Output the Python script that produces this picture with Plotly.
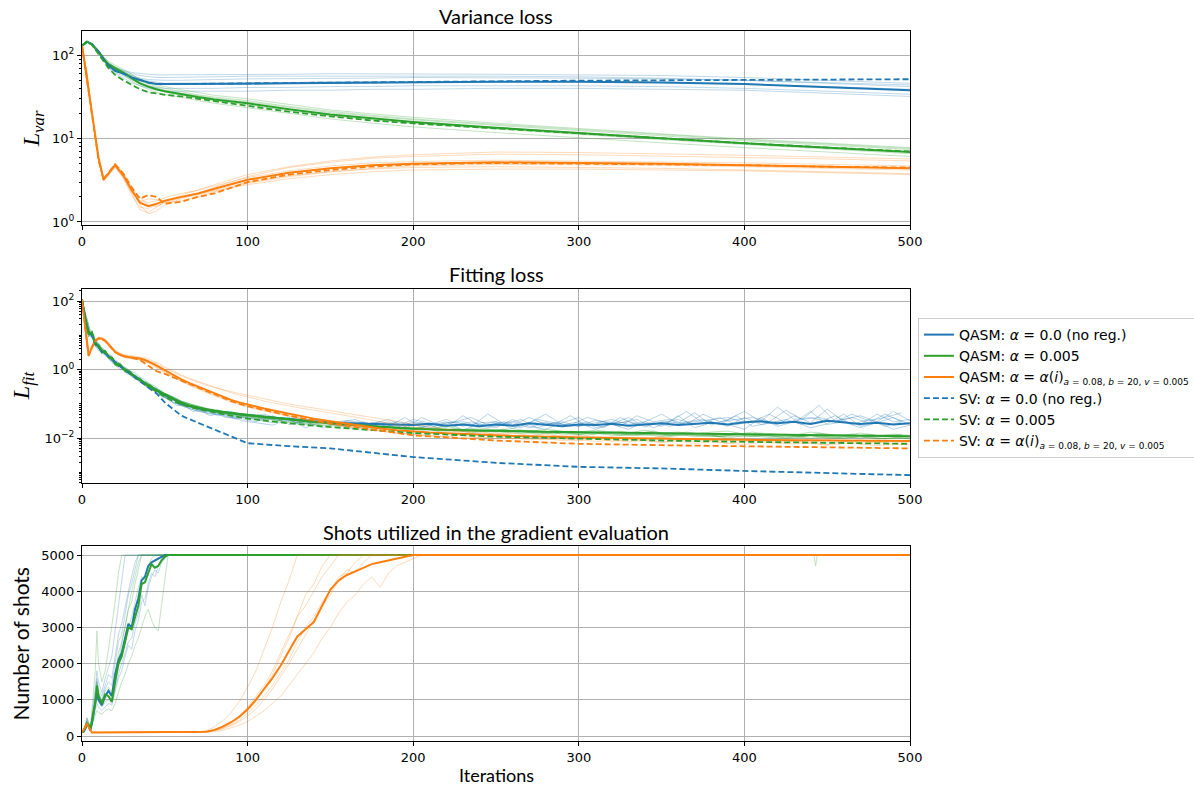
import plotly.graph_objects as go

BLUE = "#1f77b4"
GREEN = "#2ca02c"
ORANGE = "#ff7f0e"

# ---------------- Panel 1: variance loss ----------------
var_iter = [0, 3, 6, 10, 13, 16, 20, 25, 30, 35, 40, 45, 50, 60, 70, 80, 100, 125, 150, 175, 200, 250, 300, 350, 400, 450, 500]

var_blue_mean = [130, 145, 135, 110, 90, 75, 65, 60, 54, 50, 47, 45, 45, 45, 45, 45, 45.5, 46, 46.5, 47, 47.5, 48, 48, 47, 45, 41, 38]
var_blue_sv = [130, 145, 135, 110, 90, 75, 65, 60, 54, 50, 47, 45, 45, 45, 45.5, 45.5, 46, 46.5, 47, 47.5, 48, 49, 49.5, 50, 50.5, 51, 51.5]
var_blue_runs = [
    [130, 146, 136, 112, 95, 82, 72, 66, 62, 60, 59, 58, 58, 58, 58, 58, 59, 59, 60, 60, 60, 59, 58, 57, 54, 50, 46],
    [130, 144, 134, 108, 88, 72, 62, 56, 50, 46, 43, 41, 40, 40, 40, 40, 41, 41, 42, 42, 43, 43, 43, 42, 40, 37, 34],
    [130, 145, 135, 110, 91, 77, 67, 62, 57, 53, 51, 50, 50, 50, 51, 51, 52, 52, 53, 53, 54, 54, 53, 52, 50, 46, 42],
    [130, 143, 133, 106, 86, 70, 60, 53, 47, 43, 40, 38, 37, 37, 37, 37, 37, 38, 38, 39, 39, 40, 40, 39, 38, 35, 32],
    [130, 146, 137, 113, 93, 79, 68, 62, 56, 52, 49, 47, 46, 46, 46, 46, 47, 47, 48, 48, 49, 49, 48, 47, 45, 42, 39],
    [130, 145, 136, 111, 92, 78, 69, 64, 60, 57, 55, 54, 54, 54, 54, 55, 56, 56, 57, 57, 57, 56, 55, 53, 50, 47, 44],
]

var_green_mean = [130, 145, 135, 110, 90, 78, 70, 62, 53, 46, 42, 39, 37, 34, 31.5, 29.5, 26.5, 22.5, 19.5, 17.5, 15.8, 13.5, 11.6, 10.1, 8.8, 7.8, 6.9]
var_green_sv = [130, 145, 133, 105, 85, 70, 58, 50, 44, 39, 36, 34.5, 33.5, 32, 30, 28, 24.5, 21, 18.5, 16.5, 15.2, 13.2, 11.5, 10.1, 8.8, 7.8, 7.0]
var_green_runs = [
    [130, 146, 137, 115, 96, 84, 76, 68, 59, 51, 47, 44, 42, 38.5, 35.5, 33, 30, 25.5, 22, 19.8, 18, 15.3, 13.1, 11.4, 9.9, 8.8, 7.8],
    [130, 144, 133, 106, 86, 74, 66, 58, 49, 43, 39, 36, 34, 31, 28.5, 26.5, 23.5, 20, 17.2, 15.3, 13.8, 11.8, 10.2, 8.9, 7.8, 6.9, 6.1],
    [130, 145, 135, 111, 91, 79, 71, 63, 54, 47, 43, 40, 38, 35, 32.5, 30.5, 27.5, 23.5, 20.5, 18.5, 16.8, 14.4, 12.4, 10.8, 9.4, 8.3, 7.4],
    [130, 145, 134, 108, 88, 76, 68, 60, 51, 45, 41, 38, 36, 33, 30.5, 28.5, 25.5, 21.5, 18.7, 16.8, 15.2, 13, 11.2, 9.7, 8.5, 7.5, 6.6],
    [130, 146, 136, 112, 92, 80, 73, 65, 56, 49, 45, 42, 40, 36.5, 33.5, 31.5, 28.5, 24.3, 21.2, 19, 17.2, 14.8, 12.8, 11.1, 9.7, 8.6, 7.6],
]

var_orange_mean = [130, 51, 20, 5.9, 3.2, 3.8, 4.8, 3.6, 2.4, 1.7, 1.55, 1.65, 1.8, 2.0, 2.2, 2.5, 3.2, 3.9, 4.4, 4.8, 5.0, 5.2, 5.1, 5.0, 4.8, 4.6, 4.4]
var_orange_sv = [130, 50, 19, 5.5, 3.3, 3.9, 4.9, 3.8, 2.6, 1.9, 2.1, 2.0, 1.65, 1.75, 2.0, 2.2, 3.0, 3.7, 4.2, 4.6, 4.9, 5.1, 5.0, 4.9, 4.8, 4.6, 4.5]
var_orange_runs = [
    [130, 58, 19, 5.3, 3.1, 4.0, 5.1, 3.9, 2.6, 1.6, 1.25, 1.35, 1.6, 1.9, 2.2, 2.6, 3.5, 4.5, 5.2, 5.8, 6.1, 6.5, 6.4, 6.2, 6.0, 5.7, 5.4],
    [130, 62, 21, 5.8, 3.3, 3.7, 4.6, 3.3, 2.1, 1.5, 1.45, 1.6, 1.8, 2.0, 2.2, 2.4, 3.0, 3.6, 4.0, 4.3, 4.5, 4.6, 4.5, 4.4, 4.2, 4.0, 3.8],
    [130, 60, 20, 5.6, 3.2, 3.9, 4.9, 3.7, 2.5, 1.8, 1.7, 1.8, 1.95, 2.2, 2.4, 2.7, 3.4, 4.1, 4.7, 5.1, 5.3, 5.5, 5.4, 5.3, 5.1, 4.9, 4.7],
    [130, 59, 20, 5.4, 3.3, 3.8, 4.7, 3.5, 2.3, 1.75, 1.9, 1.85, 1.7, 1.8, 2.0, 2.3, 2.9, 3.5, 4.0, 4.4, 4.7, 4.9, 4.9, 4.8, 4.6, 4.4, 4.2],
    [130, 61, 21, 5.7, 3.2, 3.6, 4.5, 3.4, 2.2, 1.4, 1.3, 1.5, 1.75, 2.1, 2.4, 2.8, 3.7, 4.6, 5.4, 6.0, 6.4, 6.9, 6.8, 6.6, 6.3, 6.0, 5.7],
    [130, 60, 20, 5.5, 3.1, 3.8, 4.8, 3.6, 2.5, 2.0, 1.6, 1.55, 1.7, 1.95, 2.1, 2.35, 2.8, 3.3, 3.7, 4.0, 4.2, 4.3, 4.3, 4.2, 4.1, 3.9, 3.7],
]

# ---------------- Panel 2: fitting loss ----------------
fit_iter = [0, 2, 4, 6, 8, 10, 12, 14, 16, 18, 20, 23, 26, 29, 32, 35, 38, 41, 44, 47, 50,
            55, 60, 65, 70, 75, 80, 85, 90, 95, 100,
            110, 120, 130, 140, 150, 160, 170, 180, 190, 200, 210, 220, 230, 240, 250, 260, 270, 280, 290, 300,
            310, 320, 330, 340, 350, 360, 370, 380, 390, 400, 410, 420, 430, 440, 450, 460, 470, 480, 490, 500]
fit_iter_off = [1, 3, 5, 7, 9, 11, 13, 15, 17, 19, 21, 24, 27, 30, 33, 36, 39, 42, 45, 48,
                52, 57, 62, 67, 72, 77, 82, 87, 92, 97,
                105, 115, 125, 135, 145, 155, 165, 175, 185, 195, 205, 215, 225, 235, 245, 255, 265, 275, 285, 295,
                305, 315, 325, 335, 345, 355, 365, 375, 385, 395, 405, 415, 425, 435, 445, 455, 465, 475, 485, 495]

fit_blue_mean = [110, 30, 12, 10, 6, 4.5, 3.5, 3.0, 2.5, 2.0, 1.6, 1.3, 1.0, 0.8, 0.65, 0.5, 0.4, 0.32, 0.27, 0.22, 0.18,
                 0.14, 0.1, 0.085, 0.075, 0.068, 0.062, 0.057, 0.053, 0.05, 0.047,
                 0.042, 0.038, 0.035, 0.031, 0.028, 0.027, 0.026, 0.025, 0.024, 0.024, 0.026, 0.023, 0.025, 0.022, 0.025, 0.023, 0.027, 0.024, 0.022, 0.025,
                 0.024, 0.026, 0.023, 0.025, 0.027, 0.024, 0.026, 0.028, 0.025, 0.029, 0.031, 0.027, 0.03, 0.026, 0.032, 0.029, 0.026, 0.028, 0.025, 0.027]
fit_blue_runs = [
    [110, 35, 14, 9, 7, 5, 3.8, 3.5, 2.8, 2.2, 1.9, 1.5, 1.2, 0.9, 0.8, 0.6, 0.5, 0.38, 0.33, 0.25, 0.2,
     0.16, 0.12, 0.1, 0.08, 0.07, 0.065, 0.055, 0.06, 0.05, 0.045,
     0.05, 0.035, 0.04, 0.03, 0.028, 0.033, 0.025, 0.03, 0.022, 0.035, 0.027, 0.02, 0.045, 0.024, 0.03, 0.019, 0.028, 0.05, 0.025, 0.022,
     0.033, 0.026, 0.04, 0.021, 0.03, 0.028, 0.055, 0.024, 0.035, 0.06, 0.03, 0.025, 0.045, 0.028, 0.07, 0.03, 0.024, 0.05, 0.03, 0.035],
    [110, 25, 9, 13, 5, 3.5, 4, 2.5, 2.2, 1.6, 1.4, 1.0, 0.95, 0.7, 0.6, 0.42, 0.38, 0.27, 0.24, 0.19, 0.16,
     0.11, 0.09, 0.075, 0.06, 0.055, 0.05, 0.048, 0.04, 0.042, 0.038,
     0.035, 0.04, 0.028, 0.032, 0.025, 0.022, 0.03, 0.02, 0.026, 0.018, 0.024, 0.03, 0.017, 0.026, 0.02, 0.035, 0.022, 0.018, 0.028, 0.04,
     0.02, 0.025, 0.018, 0.03, 0.022, 0.045, 0.02, 0.028, 0.025, 0.018, 0.04, 0.022, 0.03, 0.02, 0.026, 0.05, 0.022, 0.03, 0.018, 0.024],
    [110, 30, 12, 10, 6.5, 4.8, 3.2, 3.2, 2.5, 2.1, 1.5, 1.3, 0.85, 0.85, 0.55, 0.5, 0.36, 0.3, 0.25, 0.2, 0.17,
     0.13, 0.11, 0.085, 0.07, 0.06, 0.058, 0.05, 0.045, 0.04, 0.05,
     0.04, 0.032, 0.03, 0.036, 0.026, 0.03, 0.024, 0.028, 0.02, 0.03, 0.025, 0.035, 0.022, 0.028, 0.03, 0.024, 0.04, 0.025, 0.03, 0.022,
     0.028, 0.035, 0.025, 0.03, 0.05, 0.026, 0.03, 0.035, 0.04, 0.028, 0.03, 0.08, 0.035, 0.04, 0.03, 0.035, 0.045, 0.03, 0.06, 0.032],
    [110, 40, 15, 8, 7.5, 4, 4.2, 2.8, 2.6, 1.8, 1.7, 1.2, 1.1, 0.75, 0.7, 0.5, 0.42, 0.34, 0.28, 0.22, 0.19,
     0.15, 0.1, 0.09, 0.075, 0.068, 0.055, 0.06, 0.048, 0.045, 0.04,
     0.038, 0.036, 0.033, 0.028, 0.03, 0.025, 0.028, 0.022, 0.03, 0.025, 0.02, 0.028, 0.03, 0.022, 0.026, 0.03, 0.02, 0.028, 0.024, 0.03,
     0.018, 0.026, 0.03, 0.024, 0.028, 0.035, 0.025, 0.03, 0.022, 0.04, 0.025, 0.03, 0.028, 0.06, 0.025, 0.03, 0.02, 0.028, 0.04, 0.025],
]
fit_blue_runs_off = [
    [60, 18, 11, 8, 5.5, 3.2, 3.6, 2.6, 2.0, 1.9, 1.4, 1.1, 0.9, 0.6, 0.55, 0.4, 0.33, 0.28, 0.2, 0.18,
     0.13, 0.1, 0.08, 0.068, 0.06, 0.05, 0.052, 0.042, 0.04, 0.036,
     0.03, 0.045, 0.025, 0.03, 0.02, 0.028, 0.035, 0.022, 0.03, 0.018, 0.04, 0.025, 0.03, 0.022, 0.05, 0.026, 0.02, 0.03, 0.025, 0.045,
     0.022, 0.03, 0.028, 0.035, 0.02, 0.03, 0.06, 0.028, 0.04, 0.025, 0.03, 0.05, 0.028, 0.035, 0.09, 0.03, 0.04, 0.028, 0.05, 0.03],
    [50, 22, 9, 10, 4.5, 4.2, 2.8, 3.1, 1.8, 2.0, 1.2, 1.3, 0.75, 0.7, 0.5, 0.45, 0.3, 0.3, 0.22, 0.16,
     0.14, 0.09, 0.09, 0.06, 0.065, 0.045, 0.05, 0.04, 0.038, 0.032,
     0.028, 0.024, 0.035, 0.02, 0.03, 0.025, 0.018, 0.028, 0.022, 0.04, 0.02, 0.026, 0.022, 0.03, 0.02, 0.025, 0.035, 0.02, 0.028, 0.022,
     0.03, 0.02, 0.04, 0.024, 0.028, 0.022, 0.03, 0.035, 0.025, 0.045, 0.022, 0.028, 0.035, 0.025, 0.03, 0.045, 0.025, 0.035, 0.022, 0.03],
    [70, 28, 13, 7, 6, 5, 3.0, 2.6, 2.3, 1.5, 1.5, 1.0, 1.0, 0.65, 0.6, 0.42, 0.38, 0.25, 0.26, 0.17,
     0.15, 0.12, 0.085, 0.08, 0.062, 0.058, 0.045, 0.05, 0.036, 0.04,
     0.035, 0.028, 0.04, 0.025, 0.033, 0.022, 0.03, 0.026, 0.035, 0.022, 0.028, 0.02, 0.03, 0.04, 0.024, 0.03, 0.022, 0.035, 0.028, 0.024,
     0.04, 0.03, 0.022, 0.045, 0.03, 0.035, 0.025, 0.05, 0.03, 0.035, 0.04, 0.03, 0.065, 0.035, 0.04, 0.03, 0.05, 0.032, 0.04, 0.055],
]

fit_green_mean = [110, 28, 11, 12, 5.5, 5, 3.2, 3.4, 2.3, 2.2, 1.5, 1.4, 0.95, 0.85, 0.6, 0.52, 0.4, 0.34, 0.27, 0.23, 0.19,
                  0.15, 0.11, 0.09, 0.078, 0.07, 0.063, 0.058, 0.054, 0.05, 0.047,
                  0.042, 0.037, 0.033, 0.03, 0.027, 0.025, 0.023, 0.021, 0.02, 0.019, 0.018, 0.0175, 0.017, 0.0168, 0.0163, 0.016, 0.0158, 0.0152, 0.015, 0.0145,
                  0.0147, 0.0142, 0.014, 0.0138, 0.0135, 0.0136, 0.0132, 0.013, 0.0131, 0.0127, 0.0126, 0.0124, 0.0122, 0.0123, 0.012, 0.0118, 0.0117, 0.0116, 0.0114, 0.0113]
fit_green_runs = [
    [110, 30, 13, 11, 6, 5, 3.5, 3.6, 2.5, 2.4, 1.7, 1.5, 1.05, 0.9, 0.65, 0.55, 0.44, 0.36, 0.3, 0.25, 0.2,
     0.16, 0.12, 0.1, 0.085, 0.075, 0.068, 0.06, 0.056, 0.052, 0.05,
     0.044, 0.04, 0.035, 0.032, 0.028, 0.026, 0.025, 0.022, 0.021, 0.02, 0.019, 0.022, 0.018, 0.02, 0.017, 0.019, 0.016, 0.018, 0.016, 0.015,
     0.017, 0.015, 0.014, 0.017, 0.014, 0.015, 0.013, 0.015, 0.016, 0.013, 0.014, 0.013, 0.012, 0.015, 0.013, 0.012, 0.014, 0.012, 0.013, 0.012],
    [110, 24, 9, 14, 5, 6, 3, 3.8, 2.1, 2.6, 1.3, 1.6, 0.8, 0.95, 0.5, 0.6, 0.35, 0.38, 0.25, 0.24, 0.17,
     0.14, 0.1, 0.085, 0.07, 0.065, 0.058, 0.055, 0.05, 0.047, 0.044,
     0.04, 0.035, 0.032, 0.028, 0.026, 0.024, 0.022, 0.02, 0.019, 0.018, 0.017, 0.016, 0.018, 0.015, 0.016, 0.014, 0.014, 0.016, 0.013, 0.013,
     0.015, 0.012, 0.012, 0.013, 0.011, 0.013, 0.011, 0.012, 0.01, 0.012, 0.011, 0.01, 0.01, 0.012, 0.01, 0.01, 0.011, 0.0095, 0.01, 0.0095],
    [110, 33, 12, 10, 6.5, 4.2, 3.8, 2.8, 2.6, 1.9, 1.6, 1.2, 1.0, 0.7, 0.7, 0.45, 0.42, 0.3, 0.28, 0.2, 0.19,
     0.14, 0.11, 0.09, 0.08, 0.07, 0.062, 0.058, 0.052, 0.049, 0.046,
     0.042, 0.038, 0.034, 0.03, 0.027, 0.025, 0.023, 0.021, 0.02, 0.019, 0.018, 0.017, 0.016, 0.018, 0.016, 0.015, 0.016, 0.014, 0.015, 0.014,
     0.013, 0.015, 0.013, 0.013, 0.012, 0.014, 0.012, 0.012, 0.011, 0.013, 0.012, 0.011, 0.011, 0.012, 0.011, 0.011, 0.01, 0.012, 0.011, 0.01],
    [110, 27, 10, 13, 4.5, 5.5, 2.8, 3.6, 2.0, 2.3, 1.3, 1.4, 0.85, 0.8, 0.55, 0.48, 0.36, 0.32, 0.24, 0.21, 0.16,
     0.13, 0.095, 0.08, 0.07, 0.064, 0.058, 0.053, 0.05, 0.046, 0.043,
     0.04, 0.036, 0.033, 0.029, 0.026, 0.024, 0.022, 0.021, 0.019, 0.018, 0.018, 0.017, 0.016, 0.016, 0.015, 0.016, 0.015, 0.014, 0.014, 0.013,
     0.014, 0.013, 0.013, 0.012, 0.013, 0.012, 0.012, 0.011, 0.012, 0.011, 0.012, 0.011, 0.011, 0.01, 0.011, 0.01, 0.011, 0.01, 0.01, 0.01],
]
fit_green_runs_off = [
    [55, 20, 12, 9, 5.8, 3.8, 3.9, 2.4, 2.4, 1.7, 1.6, 1.1, 1.0, 0.65, 0.62, 0.42, 0.4, 0.27, 0.27, 0.19,
     0.16, 0.12, 0.1, 0.08, 0.075, 0.06, 0.062, 0.05, 0.052, 0.044,
     0.04, 0.033, 0.03, 0.027, 0.024, 0.025, 0.021, 0.02, 0.022, 0.018, 0.02, 0.016, 0.019, 0.015, 0.017, 0.018, 0.014, 0.016, 0.013, 0.016,
     0.014, 0.015, 0.012, 0.014, 0.016, 0.012, 0.013, 0.014, 0.011, 0.013, 0.015, 0.012, 0.013, 0.011, 0.014, 0.012, 0.013, 0.011, 0.012, 0.013],
    [45, 25, 10, 11, 5, 5.2, 3, 3.2, 2.0, 2.1, 1.35, 1.25, 0.8, 0.75, 0.52, 0.5, 0.33, 0.34, 0.23, 0.22,
     0.15, 0.13, 0.09, 0.085, 0.068, 0.066, 0.055, 0.054, 0.046, 0.045,
     0.038, 0.035, 0.028, 0.03, 0.024, 0.022, 0.025, 0.019, 0.021, 0.017, 0.019, 0.016, 0.018, 0.014, 0.017, 0.015, 0.016, 0.013, 0.015, 0.014,
     0.012, 0.015, 0.013, 0.012, 0.014, 0.011, 0.013, 0.012, 0.011, 0.013, 0.011, 0.012, 0.01, 0.012, 0.011, 0.01, 0.012, 0.011, 0.0095, 0.011],
    [65, 30, 14, 8, 6.8, 4.5, 4.1, 2.7, 2.7, 1.8, 1.75, 1.15, 1.1, 0.7, 0.68, 0.44, 0.44, 0.29, 0.29, 0.2,
     0.18, 0.13, 0.11, 0.09, 0.08, 0.068, 0.066, 0.056, 0.052, 0.048,
     0.043, 0.036, 0.034, 0.029, 0.028, 0.024, 0.024, 0.021, 0.02, 0.02, 0.017, 0.019, 0.016, 0.018, 0.015, 0.017, 0.016, 0.014, 0.017, 0.014,
     0.015, 0.013, 0.016, 0.013, 0.014, 0.012, 0.015, 0.013, 0.012, 0.014, 0.012, 0.013, 0.012, 0.011, 0.013, 0.012, 0.011, 0.013, 0.011, 0.012],
]

fit_orange_mean = [110, 15, 2.6, 4.5, 7, 8.2, 8.0, 7, 5.5, 4.2, 3.3, 2.7, 2.4, 2.3, 2.2, 2.1, 1.9, 1.65, 1.4, 1.15, 0.95,
                   0.7, 0.52, 0.4, 0.32, 0.26, 0.2, 0.16, 0.13, 0.11, 0.095,
                   0.073, 0.058, 0.046, 0.037, 0.031, 0.026, 0.022, 0.019, 0.017, 0.0155, 0.0145, 0.0138, 0.013, 0.0125, 0.012, 0.0116, 0.0112, 0.011, 0.0107, 0.0104,
                   0.0102, 0.01, 0.0098, 0.0097, 0.0095, 0.0094, 0.0092, 0.0091, 0.009, 0.0089, 0.0088, 0.0087, 0.0086, 0.0085, 0.0085, 0.0084, 0.0083, 0.0083, 0.0082, 0.0082]
fit_orange_runs = [
    [110, 14, 2.4, 4.8, 7.5, 8.8, 8.5, 7.5, 6, 4.6, 3.6, 3.0, 2.7, 2.6, 2.5, 2.4, 2.2, 1.95, 1.7, 1.45, 1.2,
     0.9, 0.7, 0.55, 0.45, 0.37, 0.3, 0.25, 0.21, 0.18, 0.16,
     0.12, 0.095, 0.078, 0.065, 0.055, 0.045, 0.037, 0.03, 0.025, 0.021, 0.018, 0.016, 0.015, 0.013, 0.014, 0.012, 0.012, 0.011, 0.012, 0.01,
     0.011, 0.0095, 0.01, 0.009, 0.0105, 0.0085, 0.0095, 0.009, 0.0085, 0.0095, 0.008, 0.009, 0.0085, 0.0075, 0.009, 0.008, 0.0085, 0.0075, 0.008, 0.0085],
    [110, 16, 2.8, 4.2, 6.5, 7.6, 7.4, 6.4, 5, 3.8, 3, 2.5, 2.2, 2.1, 2.0, 1.9, 1.7, 1.45, 1.2, 1.0, 0.8,
     0.6, 0.44, 0.34, 0.27, 0.21, 0.17, 0.14, 0.11, 0.095, 0.08,
     0.062, 0.048, 0.038, 0.03, 0.025, 0.021, 0.018, 0.016, 0.014, 0.013, 0.012, 0.011, 0.012, 0.01, 0.011, 0.0095, 0.01, 0.009, 0.0095, 0.0085,
     0.01, 0.008, 0.009, 0.0085, 0.0075, 0.009, 0.008, 0.0085, 0.007, 0.008, 0.0085, 0.0075, 0.008, 0.007, 0.0065, 0.008, 0.0072, 0.0075, 0.007, 0.0078],
    [110, 15, 2.6, 4.6, 7.2, 8.4, 8.2, 7.2, 5.7, 4.3, 3.4, 2.8, 2.5, 2.4, 2.3, 2.2, 2.0, 1.8, 1.55, 1.3, 1.1,
     0.85, 0.65, 0.52, 0.42, 0.35, 0.3, 0.26, 0.23, 0.2, 0.18,
     0.14, 0.11, 0.09, 0.075, 0.062, 0.052, 0.043, 0.036, 0.03, 0.025, 0.021, 0.018, 0.016, 0.015, 0.013, 0.014, 0.012, 0.013, 0.011, 0.012,
     0.0105, 0.011, 0.01, 0.0095, 0.011, 0.009, 0.0098, 0.0088, 0.0095, 0.0085, 0.009, 0.0088, 0.0082, 0.009, 0.0085, 0.008, 0.0088, 0.0078, 0.0085, 0.008],
    [110, 13, 2.5, 4.4, 6.9, 8, 7.8, 6.8, 5.3, 4.0, 3.1, 2.6, 2.3, 2.2, 2.1, 2.0, 1.8, 1.55, 1.3, 1.05, 0.85,
     0.62, 0.46, 0.36, 0.28, 0.22, 0.18, 0.15, 0.12, 0.1, 0.085,
     0.065, 0.05, 0.04, 0.032, 0.026, 0.022, 0.019, 0.016, 0.014, 0.013, 0.0115, 0.011, 0.01, 0.0105, 0.0095, 0.01, 0.009, 0.0095, 0.0085, 0.009,
     0.008, 0.0088, 0.0078, 0.0085, 0.0075, 0.008, 0.007, 0.0078, 0.0072, 0.0065, 0.0075, 0.007, 0.0068, 0.0072, 0.0062, 0.007, 0.0068, 0.006, 0.0066, 0.0064],
]

fit_sv_iter = [0, 2, 4, 6, 8, 10, 12, 14, 16, 18, 20, 25, 30, 35, 40, 45, 50, 55, 60, 70, 80, 90, 100, 125, 150, 200, 250, 300, 350, 400, 450, 500]
fit_blue_sv = [110, 28, 11, 11, 5.5, 4.5, 3.3, 3, 2.4, 2.0, 1.6, 1.05, 0.7, 0.45, 0.3, 0.2, 0.11, 0.07, 0.045,
               0.028, 0.018, 0.011, 0.0071, 0.0058, 0.005, 0.0028, 0.0019, 0.00145, 0.0013, 0.0011, 0.00095, 0.00083]
fit_green_sv = [110, 28, 11, 12, 5.5, 5, 3.2, 3.4, 2.3, 2.2, 1.5, 1.05, 0.75, 0.5, 0.32, 0.22, 0.16, 0.12, 0.095,
                0.07, 0.055, 0.045, 0.037, 0.027, 0.021, 0.014, 0.011, 0.0095, 0.0085, 0.0078, 0.0072, 0.0068]
fit_orange_sv = [110, 14, 2.5, 4.3, 6.8, 8, 7.8, 6.8, 5.3, 4.0, 3.2, 2.5, 2.2, 1.9, 1.3, 0.9, 0.75, 0.6, 0.48,
                 0.3, 0.19, 0.12, 0.085, 0.045, 0.027, 0.012, 0.0085, 0.0068, 0.0062, 0.0057, 0.0053, 0.005]

# ---------------- Panel 3: shots ----------------
shots_iter = [0, 1, 2, 3, 4, 5, 6, 7, 8, 9, 10,
              12, 14, 16, 18, 20, 22, 24, 26, 28, 30, 32, 34, 36, 38, 40, 42, 44, 46, 48, 50, 52, 54, 56,
              442, 443, 444, 500]
shots_blue_mean = [100, 120, 200, 300, 280, 150, 350, 600, 900, 1200, 1000,
                   850, 1100, 1250, 1100, 1700, 2100, 2300, 2700, 3100, 3000, 3500, 3800, 4300, 4400, 4700, 4800, 4850, 4900, 4950, 5000, 5000, 5000, 5000,
                   5000, 5000, 5000, 5000]
shots_blue_runs = [
    [100, 150, 300, 500, 350, 200, 600, 900, 1300, 1800, 1500,
     1200, 1600, 1900, 2200, 2900, 3600, 4300, 5000, 5000, 5000, 5000, 5000, 5000, 5000, 5000, 5000, 5000, 5000, 5000, 5000, 5000, 5000, 5000,
     5000, 5000, 5000, 5000],
    [100, 100, 200, 300, 250, 150, 300, 500, 700, 900, 800,
     700, 800, 900, 850, 1200, 1600, 1800, 2200, 2500, 2400, 2900, 3200, 3700, 3800, 4200, 4500, 4400, 4700, 4900, 5000, 5000, 5000, 5000,
     5000, 5000, 5000, 5000],
    [100, 130, 250, 400, 300, 180, 450, 700, 1000, 1500, 1200,
     1000, 1300, 1500, 1400, 2000, 2600, 2800, 3300, 3900, 4200, 4600, 5000, 5000, 5000, 5000, 5000, 5000, 5000, 5000, 5000, 5000, 5000, 5000,
     5000, 5000, 5000, 5000],
    [100, 120, 220, 320, 280, 160, 380, 650, 850, 1100, 950,
     800, 950, 1000, 900, 1300, 1700, 2000, 2300, 2600, 2700, 3100, 3400, 3900, 3600, 4100, 4400, 4600, 4500, 4800, 4900, 5000, 5000, 5000,
     5000, 5000, 5000, 5000],
    [100, 140, 280, 450, 320, 190, 500, 800, 1200, 1600, 1300,
     1100, 1400, 1700, 1600, 2200, 2800, 3100, 3600, 4000, 4400, 4800, 5000, 5000, 5000, 5000, 5000, 5000, 5000, 5000, 5000, 5000, 5000, 5000,
     5000, 5000, 5000, 5000],
]
shots_green_mean = [100, 150, 250, 350, 300, 200, 400, 700, 900, 1400, 1100,
                    900, 1150, 1100, 950, 1500, 2000, 2200, 2600, 3000, 2950, 3300, 3600, 4200, 4250, 4500, 4750, 4650, 4700, 4850, 4950, 5000, 5000, 5000,
                    5000, 5000, 5000, 5000]
shots_green_runs = [
    [100, 150, 300, 500, 400, 250, 700, 1200, 1800, 2900, 2000,
     1500, 1800, 2400, 3000, 3700, 4500, 5000, 5000, 5000, 5000, 5000, 5000, 5000, 5000, 5000, 5000, 5000, 5000, 5000, 5000, 5000, 5000, 5000,
     5000, 5000, 5000, 5000],
    [100, 100, 200, 280, 250, 150, 300, 450, 600, 700, 650,
     600, 700, 750, 700, 900, 1200, 1500, 1700, 2000, 2200, 2500, 2700, 3000, 3300, 3500, 3200, 3000, 2900, 3600, 4300, 5000, 5000, 5000,
     5000, 5000, 5000, 5000],
    [100, 130, 260, 380, 300, 170, 420, 700, 950, 1300, 1100,
     900, 1100, 1200, 1100, 1600, 2100, 2600, 3100, 3500, 4000, 4400, 4800, 5000, 5000, 5000, 5000, 5000, 5000, 5000, 5000, 5000, 5000, 5000,
     5000, 4700, 5000, 5000],
    [100, 120, 230, 350, 290, 160, 400, 620, 880, 1150, 1000,
     850, 1050, 1100, 950, 1400, 1900, 2200, 2600, 3000, 3300, 3700, 4100, 4400, 4300, 4700, 4900, 5000, 5000, 5000, 5000, 5000, 5000, 5000,
     5000, 5000, 5000, 5000],
    [100, 140, 270, 420, 330, 200, 480, 760, 1050, 1500, 1200,
     950, 1250, 1350, 1200, 1700, 2300, 2600, 3000, 3500, 3700, 4200, 4600, 5000, 5000, 5000, 5000, 5000, 5000, 5000, 5000, 5000, 5000, 5000,
     5000, 5000, 5000, 5000],
]

shots_orange_iter = [0, 2, 3, 4, 6, 10, 70, 75, 80, 85, 90, 95, 100, 105, 110, 115, 120, 125, 130, 135, 140,
                     145, 150, 155, 160, 165, 170, 175, 180, 185, 190, 195, 200, 205, 210, 500]
shots_orange_mean = [100, 250, 330, 250, 100, 100, 100, 120, 170, 260, 380, 530, 740, 1000, 1300, 1600, 1950, 2350, 2750, 2950, 3150,
                     3600, 4050, 4300, 4450, 4550, 4650, 4750, 4800, 4850, 4900, 4950, 5000, 5000, 5000, 5000]
shots_orange_runs = [
    [100, 250, 330, 250, 100, 100, 100, 150, 250, 420, 650, 950, 1350, 1800, 2400, 3000, 3700, 4300, 5000, 5000, 5000,
     5000, 5000, 5000, 5000, 5000, 5000, 5000, 5000, 5000, 5000, 5000, 5000, 5000, 5000, 5000],
    [100, 250, 330, 250, 100, 100, 100, 120, 170, 250, 380, 550, 800, 1100, 1400, 1800, 2300, 2800, 3300, 3900, 4200,
     4700, 5000, 5000, 5000, 5000, 5000, 5000, 5000, 5000, 5000, 5000, 5000, 5000, 5000, 5000],
    [100, 250, 330, 250, 100, 100, 100, 110, 140, 200, 290, 400, 550, 750, 1000, 1300, 1650, 2000, 2400, 2800, 3200,
     3600, 3900, 4300, 4600, 4500, 4800, 5000, 5000, 5000, 5000, 5000, 5000, 5000, 5000, 5000],
    [100, 250, 330, 250, 100, 100, 100, 105, 120, 160, 220, 300, 400, 550, 700, 900, 1100, 1400, 1700, 2000, 2300,
     2700, 3000, 3400, 3700, 3900, 4200, 4400, 4100, 4500, 4700, 4800, 4900, 5000, 5000, 5000],
    [100, 250, 330, 250, 100, 100, 100, 115, 160, 240, 350, 500, 700, 950, 1300, 1700, 2200, 2700, 3300, 3600, 4000,
     4400, 4700, 5000, 5000, 5000, 5000, 5000, 5000, 5000, 5000, 5000, 5000, 5000, 5000, 5000],
    [100, 250, 330, 250, 100, 100, 100, 110, 150, 210, 310, 440, 620, 850, 1100, 1400, 1750, 2100, 2600, 3000, 3300,
     3700, 4000, 4400, 4500, 4800, 5000, 5000, 5000, 5000, 5000, 5000, 5000, 5000, 5000, 5000],
]

# ---------------- Labels ----------------
SUB = "<sub><span style='font-size:9px'><i>a</i> = 0.08, <i>b</i> = 20, <i>v</i> = 0.005</span></sub>"
legend_labels = [
    "QASM: <i>α</i> = 0.0 (no reg.)",
    "QASM: <i>α</i> = 0.005",
    "QASM: <i>α</i> = <i>α</i>(<i>i</i>)" + SUB,
    "SV: <i>α</i> = 0.0 (no reg.)",
    "SV: <i>α</i> = 0.005",
    "SV: <i>α</i> = <i>α</i>(<i>i</i>)" + SUB,
]
panel_titles = ["Variance loss", "Fitting loss", "Shots utilized in the gradient evaluation"]
x_ticks = [0, 100, 200, 300, 400, 500]

fig = go.Figure()


def thin(x, y, color, xa, ya, op=0.35):
    fig.add_trace(go.Scatter(x=x, y=y, mode="lines", line=dict(color=color, width=0.8),
                             opacity=op, showlegend=False, hoverinfo="skip", xaxis=xa, yaxis=ya))


def main(x, y, color, xa, ya, name=None, dash="solid", width=2.0, rank=None):
    fig.add_trace(go.Scatter(x=x, y=y, mode="lines", line=dict(color=color, width=width, dash=dash),
                             name=name if name else "", showlegend=name is not None,
                             legendrank=rank if rank else 1000, xaxis=xa, yaxis=ya))


DASH = "6px,3px"

# Panel 1
for r in var_blue_runs:
    thin(var_iter, r, BLUE, "x", "y")
main(var_iter, var_blue_mean, BLUE, "x", "y", legend_labels[0], rank=1)
for r in var_green_runs:
    thin(var_iter, r, GREEN, "x", "y")
main(var_iter, var_green_mean, GREEN, "x", "y", legend_labels[1], rank=2)
for r in var_orange_runs:
    thin(var_iter, r, ORANGE, "x", "y")
main(var_iter, var_orange_mean, ORANGE, "x", "y", legend_labels[2], rank=3)
main(var_iter, var_blue_sv, BLUE, "x", "y", legend_labels[3], dash=DASH, width=1.8, rank=4)
main(var_iter, var_green_sv, GREEN, "x", "y", legend_labels[4], dash=DASH, width=1.8, rank=5)
main(var_iter, var_orange_sv, ORANGE, "x", "y", legend_labels[5], dash=DASH, width=1.8, rank=6)

# Panel 2
for r in fit_blue_runs:
    thin(fit_iter, r, BLUE, "x2", "y2", 0.4)
for r in fit_blue_runs_off:
    thin(fit_iter_off, r, BLUE, "x2", "y2", 0.4)
main(fit_iter, fit_blue_mean, BLUE, "x2", "y2")
for r in fit_green_runs:
    thin(fit_iter, r, GREEN, "x2", "y2", 0.4)
for r in fit_green_runs_off:
    thin(fit_iter_off, r, GREEN, "x2", "y2", 0.4)
main(fit_iter, fit_green_mean, GREEN, "x2", "y2")
for r in fit_orange_runs:
    thin(fit_iter, r, ORANGE, "x2", "y2")
main(fit_iter, fit_orange_mean, ORANGE, "x2", "y2")
main(fit_sv_iter, fit_blue_sv, BLUE, "x2", "y2", dash=DASH, width=1.8)
main(fit_sv_iter, fit_green_sv, GREEN, "x2", "y2", dash=DASH, width=1.8)
main(fit_sv_iter, fit_orange_sv, ORANGE, "x2", "y2", dash=DASH, width=1.8)

# Panel 3
for r in shots_blue_runs:
    thin(shots_iter, r, BLUE, "x3", "y3")
main(shots_iter, shots_blue_mean, BLUE, "x3", "y3")
for r in shots_green_runs:
    thin(shots_iter, r, GREEN, "x3", "y3")
main(shots_iter, shots_green_mean, GREEN, "x3", "y3")
for r in shots_orange_runs:
    thin(shots_orange_iter, r, ORANGE, "x3", "y3")
main(shots_orange_iter, shots_orange_mean, ORANGE, "x3", "y3")

GRID = "#b0b0b0"
TICKFONT = dict(family="DejaVu Sans", size=13, color="black")


def xaxis_cfg(anchor):
    return dict(anchor=anchor, domain=[0, 1], range=[0, 500], tickvals=x_ticks,
                showgrid=True, gridcolor=GRID, gridwidth=0.8, zeroline=False,
                showline=True, linecolor="black", linewidth=1, mirror=True,
                ticks="outside", ticklen=4, tickwidth=0.8, tickcolor="black", tickfont=TICKFONT)


def yaxis_common():
    return dict(showgrid=True, gridcolor=GRID, gridwidth=0.8, zeroline=False,
                showline=True, linecolor="black", linewidth=1, mirror=True,
                ticks="outside", ticklen=4, tickwidth=0.8, tickcolor="black", tickfont=TICKFONT)


fig.update_layout(
    width=1194, height=785,
    margin=dict(l=82, r=284, t=31, b=44, autoexpand=False),
    plot_bgcolor="white", paper_bgcolor="white",
    font=dict(family="DejaVu Sans", size=12, color="black"),
    xaxis=xaxis_cfg("y"), xaxis2=xaxis_cfg("y2"), xaxis3=xaxis_cfg("y3"),
    yaxis=dict(domain=[0.7268, 1.0], type="log", range=[-0.036, 2.29],
               tickvals=[1, 10, 100], ticktext=["10<sup>0</sup>", "10<sup>1</sup>", "10<sup>2</sup>"],
               minor=dict(dtick="D1", ticks="outside", ticklen=2, tickcolor="black", showgrid=False),
               **yaxis_common()),
    yaxis2=dict(domain=[0.3634, 0.6366], type="log", range=[-3.31, 2.35],
                tickvals=[0.01, 1, 100], ticktext=["10<sup>−2</sup>", "10<sup>0</sup>", "10<sup>2</sup>"],
                minor=dict(dtick="D1", ticks="outside", ticklen=2, tickcolor="black", showgrid=False),
                **yaxis_common()),
    yaxis3=dict(domain=[0.0, 0.2746], range=[-138, 5250],
                tickvals=[0, 1000, 2000, 3000, 4000, 5000], tickformat="d",
                **yaxis_common()),
    legend=dict(xref="container", yref="container", x=0.7688, y=0.5949, xanchor="left", yanchor="top",
                bgcolor="rgba(255,255,255,0.8)", bordercolor="#cccccc", borderwidth=1,
                font=dict(family="DejaVu Sans", size=14, color="black"),
                tracegroupgap=0),
)

TITLEFONT = dict(family="Lato", size=20, color="black")
annots = [
    dict(text=panel_titles[0], x=0.5, y=1.0211, xanchor="center", yanchor="middle", font=TITLEFONT),
    dict(text=panel_titles[1], x=0.5, y=0.6577, xanchor="center", yanchor="middle", font=TITLEFONT),
    dict(text=panel_titles[2], x=0.5, y=0.2944, xanchor="center", yanchor="middle", font=TITLEFONT),
    dict(text="Iterations", x=0.5, y=-0.0485, xanchor="center", yanchor="middle", font=dict(family="Lato", size=18, color="black")),
    dict(text="<i>L</i><sub><i>var</i></sub>", x=-0.0592, y=0.863, xanchor="center", yanchor="middle", textangle=-90,
         font=dict(family="Liberation Serif", size=24, color="black")),
    dict(text="<i>L</i><sub><i>fit</i></sub>", x=-0.071, y=0.5, xanchor="center", yanchor="middle", textangle=-90,
         font=dict(family="Liberation Serif", size=24, color="black")),
    dict(text="Number of shots", x=-0.074, y=0.137, xanchor="center", yanchor="middle", textangle=-90,
         font=dict(family="Lato", size=21, color="black")),
]
for a in annots:
    a.update(xref="paper", yref="paper", showarrow=False)
fig.update_layout(annotations=annots)

# Remove the default 8px page margin so the 1194x785 figure fills the window exactly.
fig.write_html("out.html", config={"displayModeBar": False},
               post_script="document.body.style.margin='0';document.body.style.overflow='hidden';")
